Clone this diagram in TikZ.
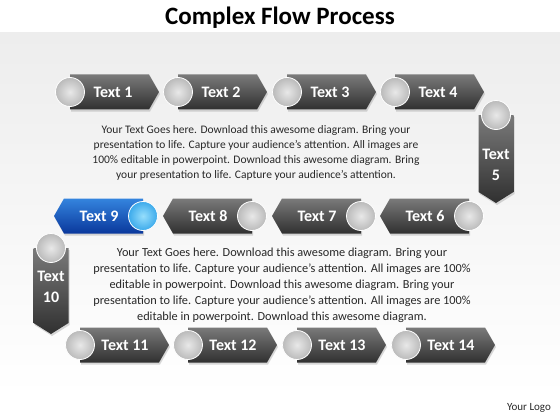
\documentclass[tikz,border=0pt]{standalone}
\usepackage{fontspec}
\setmainfont{Carlito}
\usetikzlibrary{shadows}
\definecolor{arrowtop}{RGB}{122,122,122}
\definecolor{arrowbot}{RGB}{48,48,48}
\definecolor{balldark}{RGB}{186,186,186}
\definecolor{balllight}{RGB}{232,232,232}
\definecolor{bluetop}{RGB}{52,132,222}
\definecolor{bluebot}{RGB}{10,56,156}
\definecolor{ballblue}{RGB}{60,170,235}
\definecolor{ballbluel}{RGB}{150,222,252}
\definecolor{bandgray}{RGB}{237,237,237}
\definecolor{bodytext}{RGB}{40,40,40}

\tikzset{
  flowbody/.style={top color=arrowtop, bottom color=arrowbot,
    drop shadow={shadow xshift=1pt, shadow yshift=-2pt, opacity=0.3}},
  flowblue/.style={top color=bluetop, bottom color=bluebot},
  flowlabel/.style={text=white, font=\fontsize{16}{21}\selectfont\bfseries, align=center, inner sep=0pt},
  ball/.style={circle, minimum size=29pt, inner sep=0pt, draw=white, line width=0.8pt,
    inner color=balllight, outer color=balldark},
  ballblue/.style={ball, inner color=ballbluel, outer color=ballblue},
  paraa/.style={align=center, text=bodytext, font=\fontsize{11.5}{15}\selectfont},
  parab/.style={align=center, text=bodytext, font=\fontsize{12.3}{16}\selectfont}
}

\begin{document}
\begin{tikzpicture}[x=1pt,y=-1pt]

\newcommand\RowA{92}
\newcommand\RowB{216}
\newcommand\RowC{345}
\newcommand\FlowRight[2]{\path[flowbody] (#1,#2) ++(0,-17.5) -- ++(79,0)
  -- ++(10,17.5) -- ++(-10,17.5) -- ++(-79,0) -- cycle;}
\newcommand\FlowLeft[3][]{\path[flowbody,#1] (#2,#3) ++(0,-17.5) -- ++(-79,0)
  -- ++(-10,17.5) -- ++(10,17.5) -- ++(79,0) -- cycle;}
\newcommand\FlowDown[3]{\path[flowbody] (#1,#2) ++(-17.5,0) -- ++(0,#3-11)
  -- ++(17.5,11) -- ++(17.5,-11) -- ++(0,-#3+11) -- cycle;}

  \useasboundingbox (0,0) rectangle (560,420);
  \fill[white] (0,0) rectangle (560,420);
  \fill[top color=bandgray, bottom color=white] (0,33) rectangle (560,395);

  %% title
  \node[font=\fontsize{25}{28}\selectfont\bfseries] (title) at (280,18) {Complex Flow Process};

  %% first row, left to right
  \FlowRight{70}{\RowA}  \node[flowlabel] (t1) at (113,\RowA) {Text 1};
  \node[ball] (c1) at (70,\RowA) {};
  \FlowRight{178}{\RowA} \node[flowlabel] (t2) at (221,\RowA) {Text 2};
  \node[ball] (c2) at (178,\RowA) {};
  \FlowRight{287}{\RowA} \node[flowlabel] (t3) at (330,\RowA) {Text 3};
  \node[ball] (c3) at (287,\RowA) {};
  \FlowRight{395}{\RowA} \node[flowlabel] (t4) at (438,\RowA) {Text 4};
  \node[ball] (c4) at (395,\RowA) {};

  %% turn on the right
  \FlowDown{496}{115}{88} \node[flowlabel] (t5) at (496,164.5) {Text\\5};
  \node[ball] (c5) at (496,115) {};

  %% second row, right to left
  \FlowLeft{469}{\RowB} \node[flowlabel] (t6) at (425,\RowB) {Text 6};
  \node[ball] (c6) at (469,\RowB) {};
  \FlowLeft{361}{\RowB} \node[flowlabel] (t7) at (317,\RowB) {Text 7};
  \node[ball] (c7) at (361,\RowB) {};
  \FlowLeft{252}{\RowB} \node[flowlabel] (t8) at (208,\RowB) {Text 8};
  \node[ball] (c8) at (252,\RowB) {};
  \FlowLeft[flowblue]{143}{\RowB} \node[flowlabel] (t9) at (99,\RowB) {Text 9};
  \node[ballblue] (c9) at (143,\RowB) {};

  %% turn on the left
  \FlowDown{51}{248}{86} \node[flowlabel] (t10) at (51,287) {Text\\10};
  \node[ball] (c10) at (51,248) {};

  %% third row, left to right
  \FlowRight{80}{\RowC}  \node[flowlabel] (t11) at (125,\RowC) {Text 11};
  \node[ball] (c11) at (80,\RowC) {};
  \FlowRight{188}{\RowC} \node[flowlabel] (t12) at (233,\RowC) {Text 12};
  \node[ball] (c12) at (188,\RowC) {};
  \FlowRight{297}{\RowC} \node[flowlabel] (t13) at (342,\RowC) {Text 13};
  \node[ball] (c13) at (297,\RowC) {};
  \FlowRight{406}{\RowC} \node[flowlabel] (t14) at (451,\RowC) {Text 14};
  \node[ball] (c14) at (406,\RowC) {};

  %% texts
  \node[paraa] (pa) at (256,152.5) {Your Text Goes here. Download this awesome diagram. Bring your\\
    presentation to life. Capture your audience’s attention. All images are\\
    100\% editable in powerpoint. Download this awesome diagram. Bring\\
    your presentation to life. Capture your audience’s attention.};
  \node[parab] (pb) at (282,285) {Your Text Goes here. Download this awesome diagram. Bring your\\
    presentation to life. Capture your audience’s attention. All images are 100\%\\
    editable in powerpoint. Download this awesome diagram. Bring your\\
    presentation to life. Capture your audience’s attention. All images are 100\%\\
    editable in powerpoint. Download this awesome diagram.};

  %% logo
  \node[font=\fontsize{11}{13}\selectfont, text=bodytext] (logo) at (529,408) {Your Logo};

\end{tikzpicture}
\end{document}
